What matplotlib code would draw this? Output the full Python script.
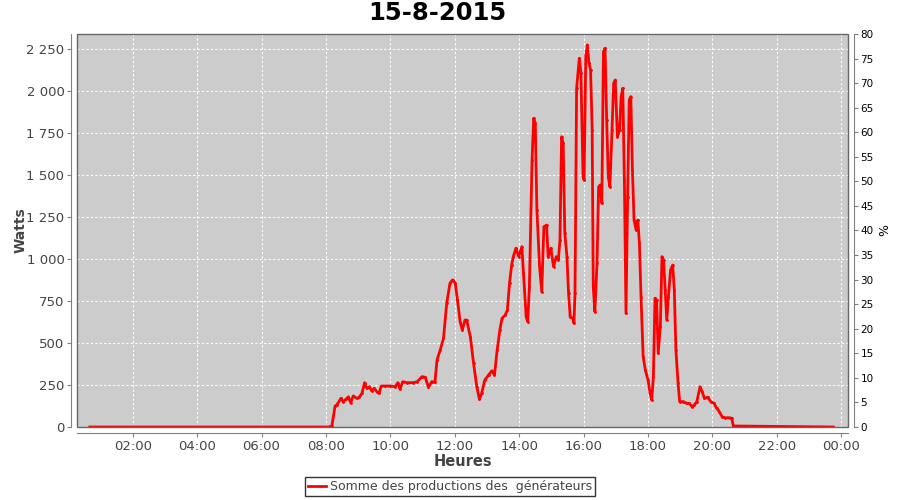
import matplotlib.pyplot as plt
from matplotlib import ticker
from matplotlib.patches import Rectangle

plt.switch_backend("agg")

# readings of the day, time of sample and total power (W)
times = [
    "00:40", "08:05", "08:11", "08:17", "08:20", "08:28", "08:32", "08:37", "08:42",
    "08:46", "08:51", "08:57", "09:02", "09:07", "09:12", "09:16", "09:21", "09:25",
    "09:30", "09:35", "09:39", "09:43", "09:50", "10:00", "10:09", "10:14", "10:18",
    "10:23", "10:31", "10:43", "10:50", "10:59", "11:05", "11:11", "11:17", "11:23",
    "11:27", "11:33", "11:39", "11:45", "11:51", "11:56", "12:01", "12:05", "12:10",
    "12:14", "12:19", "12:22", "12:29", "12:35", "12:41", "12:46", "12:50", "12:56",
    "13:03", "13:09", "13:14", "13:19", "13:24", "13:28", "13:34", "13:38", "13:42",
    "13:46", "13:49", "13:54", "13:59", "14:05", "14:08", "14:13", "14:16", "14:19",
    "14:24", "14:27", "14:30", "14:33", "14:38", "14:42", "14:46", "14:51", "14:54",
    "14:59", "15:04", "15:09", "15:13", "15:16", "15:19", "15:22", "15:25", "15:29",
    "15:32", "15:35", "15:40", "15:42", "15:44", "15:47", "15:52", "15:55", "15:59",
    "16:01", "16:04", "16:07", "16:10", "16:13", "16:16", "16:18", "16:21", "16:25",
    "16:28", "16:31", "16:34", "16:37", "16:40", "16:43", "16:46", "16:49", "16:53",
    "16:56", "16:59", "17:03", "17:07", "17:10", "17:13", "17:16", "17:19", "17:22",
    "17:25", "17:28", "17:31", "17:34", "17:38", "17:41", "17:44", "17:47", "17:51",
    "17:55", "18:00", "18:04", "18:07", "18:10", "18:13", "18:16", "18:19", "18:23",
    "18:26", "18:29", "18:32", "18:35", "18:38", "18:42", "18:46", "18:49", "18:52",
    "18:56", "18:59", "19:06", "19:12", "19:17", "19:22", "19:26", "19:31", "19:37",
    "19:41", "19:45", "19:51", "19:57", "20:03", "20:08", "20:13", "20:18", "20:24",
    "20:32", "20:36", "20:39", "23:45",
]
watts = [
    0, 0, 5, 125, 130, 171, 150, 165, 180,
    145, 185, 171, 177, 200, 264, 230, 240, 216,
    230, 210, 200, 244, 244, 244, 240, 264, 225,
    270, 264, 264, 270, 300, 296, 236, 270, 266,
    400, 460, 528, 737, 856, 876, 856, 757, 627,
    578, 637, 637, 538, 380, 240, 165, 200, 280,
    310, 335, 310, 460, 578, 647, 667, 697, 856,
    965, 1015, 1065, 1015, 1074, 916, 657, 627, 836,
    1590, 1839, 1809, 1293, 955, 806, 1193, 1203, 1015,
    1065, 955, 1015, 995, 1114, 1729, 1690, 1154, 1015,
    796, 657, 647, 618, 796, 2018, 2196, 2107, 1491,
    1471, 2206, 2276, 2167, 2127, 1769, 836, 687, 975,
    1431, 1442, 1333, 2236, 2256, 1829, 1491, 1431, 1769,
    2048, 2067, 1729, 1769, 1968, 2018, 1471, 677, 1372,
    1948, 1968, 1531, 1233, 1173, 1233, 1094, 776, 419,
    340, 280, 200, 161, 300, 767, 757, 439, 598,
    1015, 995, 816, 637, 776, 935, 965, 816, 459,
    260, 151, 151, 141, 141, 121, 131, 151, 240,
    210, 171, 177, 151, 141, 111, 91, 61, 55,
    55, 52, 6, 0,
]

title = "15-8-2015"
series_name = "Somme des productions des  générateurs"

hours = [int(t[:2]) + int(t[3:]) / 60.0 for t in times]

fig = plt.figure(figsize=(9, 5), dpi=100)
ax = fig.add_axes([77 / 900, 1 - 427 / 500, (848 - 77) / 900, (427 - 34) / 500])
ax.set_facecolor("#cccccc")

gray = "#808080"
text_gray = "#444444"

ax.plot(hours, watts, color="#ff0000", lw=2, marker=".", markersize=2, zorder=3)

ax.set_xlim(0.27, 24.21)
ax.set_ylim(0, 2341)

ax.xaxis.set_major_locator(ticker.MultipleLocator(2))
ax.xaxis.set_major_formatter(ticker.FuncFormatter(lambda v, p: "{:02d}:00".format(int(round(v)) % 24)))
ax.yaxis.set_major_locator(ticker.MultipleLocator(250))
ax.yaxis.set_major_formatter(ticker.FuncFormatter(lambda v, p: "{:,}".format(int(v)).replace(",", " ")))

ax.grid(True, color="white", ls=(0, (2, 2)), lw=0.8)
ax.set_axisbelow(True)

for side in ["left", "bottom"]:
    ax.spines[side].set_position(("outward", 4))
    ax.spines[side].set_color(gray)
ax.spines["right"].set_visible(False)
ax.spines["top"].set_visible(False)
# plot outline, the axis lines sit a few pixels outside it
ax.add_patch(Rectangle((0, 0), 1, 1, transform=ax.transAxes, fill=False,
                       edgecolor="#666666", lw=1.0, clip_on=False, zorder=4))

ax.tick_params(axis="both", colors=gray, labelcolor=text_gray, labelsize=9.5, length=3, width=0.8, pad=2)

ax.set_xlabel("Heures", fontsize=10.5, fontweight="bold", color=text_gray, labelpad=1)
ax.set_ylabel("Watts", fontsize=10, fontweight="bold", color=text_gray, labelpad=-1)

ax2 = ax.twinx()
ax2.set_ylim(0, 80)
ax2.yaxis.set_major_locator(ticker.MultipleLocator(5))
for side in ["left", "bottom", "top"]:
    ax2.spines[side].set_visible(False)
ax2.spines["right"].set_position(("outward", 4))
ax2.spines["right"].set_color(gray)
ax2.tick_params(axis="y", colors=gray, labelcolor="black", labelsize=7.5, length=3, width=0.8, pad=2)
ax2.set_ylabel("%", fontsize=9, color="black", labelpad=3)

fig.text(437 / 900, 1 - 13 / 500, title, fontsize=17.5, fontweight="bold", ha="center", va="center")

leg = fig.legend([ax.lines[0]], [series_name], loc="lower center", bbox_to_anchor=(0.5, 0.0),
                 fontsize=9, frameon=True, fancybox=False, handlelength=1.4, handletextpad=0.3,
                 borderpad=0.25, borderaxespad=0.3, markerscale=0)
leg.get_frame().set_edgecolor("black")
leg.get_frame().set_linewidth(1)
for t in leg.get_texts():
    t.set_color(text_gray)

plt.savefig("out.png", dpi=100)
